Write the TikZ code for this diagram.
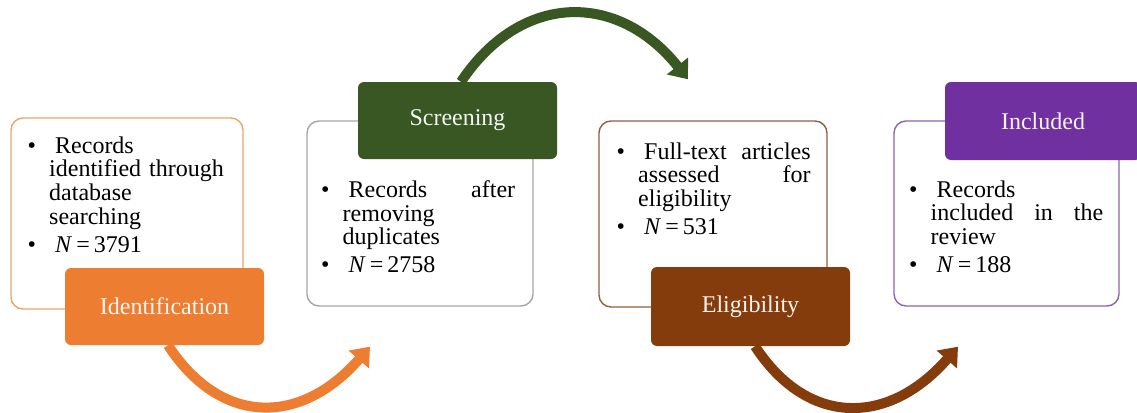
\documentclass[tikz,border=0pt]{standalone}
\usepackage{fontspec}
\setmainfont{Liberation Serif}
\usetikzlibrary{arrows.meta}
\definecolor{orF}{HTML}{ED7D31}
\definecolor{orB}{HTML}{EDA46A}
\definecolor{grF}{HTML}{385723}
\definecolor{grB}{HTML}{A6A6A6}
\definecolor{brF}{HTML}{843C0C}
\definecolor{brB}{HTML}{93603F}
\definecolor{puF}{HTML}{7030A0}
\definecolor{puB}{HTML}{8E63B0}
\newcommand{\bitem}[1]{\noindent\hangindent=21.5pt\hangafter=1\makebox[27.5pt][l]{\textbullet}#1\par}
\tikzset{
  cbox/.style={draw, line width=1.4pt, rounded corners=12pt, fill=white, inner sep=0pt},
  lab/.style={rounded corners=6pt, inner sep=0pt, font=\fontsize{24}{24}\selectfont},
  txt/.style={text width=194pt, inner sep=0pt, anchor=north west,
    font=\fontsize{24}{23.6}\selectfont,
    execute at begin node={\setlength{\parskip}{4.5pt}}},
  flow/.style={line width=10pt, -{Triangle[length=17pt,width=26pt]}}
}
\begin{document}
\begin{tikzpicture}[x=1pt,y=-1pt]
\useasboundingbox (0,0) rectangle (1137,412);
% content boxes
\node[cbox, draw=orB, minimum width=232pt, minimum height=191pt] (b1) at (127,213.5) {};
\node[cbox, draw=grB, minimum width=226pt, minimum height=185pt] (b2) at (420,213.5) {};
\node[cbox, draw=brB, minimum width=228pt, minimum height=186pt] (b3) at (713,214) {};
\node[cbox, draw=puB, minimum width=225pt, minimum height=185pt] (b4) at (1006.5,213.5) {};
% texts
\node[txt, text width=200pt] (t1) at (27.5,136.5) {\bitem{Records\newline identified through\newline database\newline searching}\bitem{\textit{N}\,=\,3791}};
\node[txt] (t2) at (321,180.5) {\bitem{Records\hfill after\newline removing\newline duplicates}\bitem{\textit{N}\,=\,2758}};
\node[txt] (t3) at (616.5,142.5) {\bitem{Full-text\hfill articles\newline assessed\hfill for\newline eligibility}\bitem{\textit{N}\,=\,531}};
\node[txt] (t4) at (909,180.5) {\bitem{Records\newline included\hfill in\hfill the\newline review}\bitem{\textit{N}\,=\,188}};
% labels
\node[lab, fill=orF, text=orF!5!white, minimum width=199pt, minimum height=77pt] (l1) at (164.5,306.5) {Identification};
\node[lab, fill=grF, text=grF!6!white, minimum width=199pt, minimum height=77pt] (l2) at (457.5,120.5) {Screening};
\node[lab, fill=brF, text=brF!6!white, minimum width=199pt, minimum height=79pt] (l3) at (750.5,306.5) {Eligibility};
\node[lab, fill=puF, text=puF!6!white, minimum width=196pt, minimum height=78pt] (l4) at (1043,121) {Included};
% arrows
\draw[flow, draw=orF] ([xshift=3.5pt]l1.south) .. controls +(52,80) and +(-70,80) .. ([xshift=-50pt,yshift=-40pt]b2.south);
\draw[flow, draw=grF] ([xshift=3.5pt]l2.north) .. controls +(60,-90) and +(-70,-88) .. ([xshift=-25pt,yshift=41pt]b3.north);
\draw[flow, draw=brF] ([xshift=4.5pt]l3.south) .. controls +(52,80) and +(-70,80) .. ([xshift=-48.5pt,yshift=-40pt]b4.south);
\end{tikzpicture}
\end{document}
